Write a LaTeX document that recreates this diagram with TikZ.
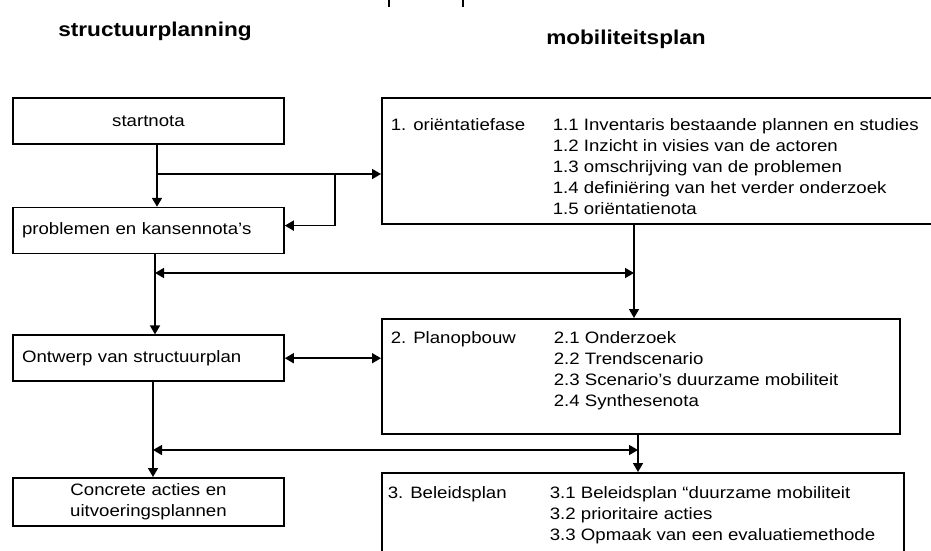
\documentclass[tikz,border=0pt]{standalone}
\usepackage{fontspec}
\setmainfont{Liberation Sans}[FakeStretch=1.13]
\usepackage{tikz}
\usetikzlibrary{positioning, arrows.meta}
\tikzset{>={Triangle[length=9pt,width=10pt]}, % filled arrow heads
	every node/.style={font=\fontsize{16.5}{21}\selectfont}, % the text size of all boxes
	leftbox/.style={draw, rectangle, text width=253pt, inner xsep=9pt, minimum height=46pt, align=left}, % boxes of the structuurplanning
	phasebox/.style={draw, rectangle, anchor=north west}, % boxes of the mobiliteitsplan
	txt/.style={anchor=north west, inner sep=0pt, align=left}, % text inside a phase box
	title/.style={font=\fontsize{20}{24}\selectfont\bfseries},
}

\begin{document}
\begin{tikzpicture}[x=1pt, y=-1pt, line width=1.6pt]
	\useasboundingbox (0,0) rectangle (931,550);
	\clip (0,0) rectangle (931,550);
	% cut off marks at the top
	\draw[line width=1.2pt] (389,0) -- (389,7);
	\draw[line width=1.2pt] (463,0) -- (463,7);
	% Titles of both columns
	\node[title] (plan) at (155,31) {structuurplanning};
	\node[title] (mob) at (626,39) {mobiliteitsplan};

	%% Left column: the structuurplanning
	\node[leftbox, align=center] (start) at (148.5,121) {startnota};
	\node[leftbox, below=62pt of start] (probl) {problemen en kansennota's};
	\node[leftbox, below=80pt of probl] (ontw) {Ontwerp van structuurplan};
	\node[leftbox, align=center, minimum height=48pt, below=95pt of ontw] (concr) {Concrete acties en\\uitvoeringsplannen};

	%% Right column: the three phases
	\node[phasebox, minimum width=600pt, minimum height=126pt] (fase1) at (381,97) {};
	\node[txt] (f1) at (390,118) {1. oriëntatiefase};
	\node[txt] (f1s) at (552,118) {1.1 Inventaris bestaande plannen en studies\\1.2 Inzicht in visies van de actoren\\1.3 omschrijving van de problemen\\1.4 definiëring van het verder onderzoek\\1.5 oriëntatienota};

	\node[phasebox, minimum width=518pt, minimum height=115pt] (fase2) at (381,318) {};
	\node[txt] (f2) at (390,331) {2. Planopbouw};
	\node[txt] (f2s) at (553,331) {2.1 Onderzoek\\2.2 Trendscenario\\2.3 Scenario's duurzame mobiliteit\\2.4 Synthesenota};

	\node[phasebox, minimum width=522pt, minimum height=120pt] (fase3) at (381,472) {};
	\node[txt] (f3) at (387,486) {3. Beleidsplan};
	\node[txt] (f3s) at (549,486) {3.1 Beleidsplan “duurzame mobiliteit\\3.2 prioritaire acties\\3.3 Opmaak van een evaluatiemethode};

	%% Connections
	\coordinate (a1) at (157,174);
	\coordinate (a2) at (335,174);
	\draw[->] (start.south -| a1) -- (probl.north -| a1);
	\draw[->] (a1) -- (a1 -| fase1.west);
	\draw[->] (a2) |- ([yshift=5pt]probl.east);

	\coordinate (b1) at (155,273);
	\coordinate (b2) at (634,273);
	\draw[<->] (b1) -- (b2);
	\draw[->] (probl.south -| b1) -- (ontw.north -| b1);
	\draw[->] (fase1.south -| b2) -- (fase2.north -| b2);
	\draw[<->] (ontw.east) -- (ontw.east -| fase2.west);

	\coordinate (c1) at (153,450);
	\coordinate (c2) at (638,450);
	\draw[<->] (c1) -- (c2);
	\draw[->] (ontw.south -| c1) -- (concr.north -| c1);
	\draw[->] (fase2.south -| c2) -- (fase3.north -| c2);
\end{tikzpicture}
\end{document}
